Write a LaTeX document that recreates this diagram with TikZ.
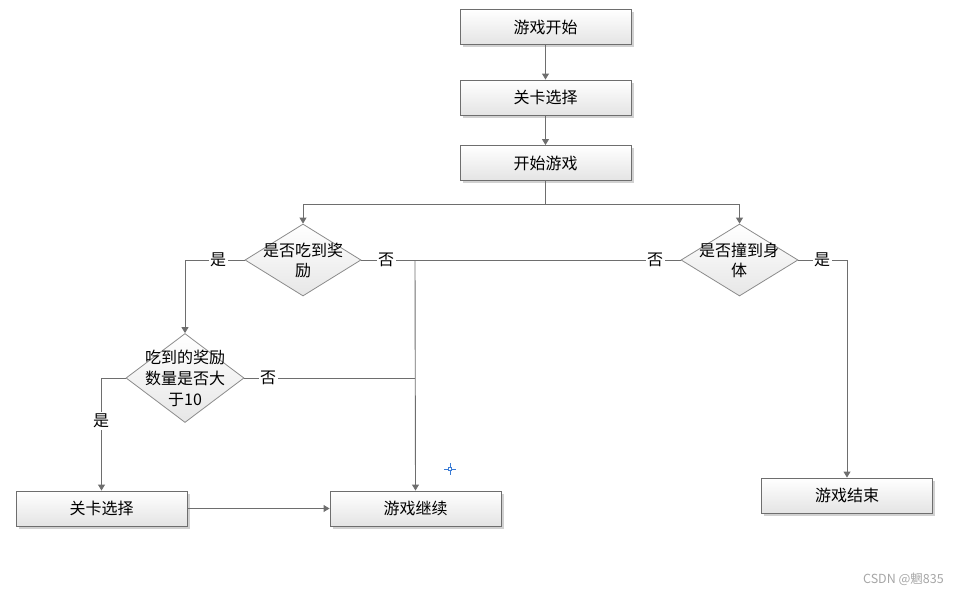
\documentclass[tikz,border=0pt]{standalone}
\usepackage{fontspec}
\setmainfont{Noto Sans CJK SC}
\usetikzlibrary{shapes.geometric,arrows.meta,shadows}

\definecolor{edge}{HTML}{6E6E6E}
\definecolor{fillbot}{HTML}{E4E4E4}
\definecolor{marker}{HTML}{3A7BD5}

\tikzset{
  stepbox/.style={rectangle, draw=edge, line width=0.9pt,
    top color=white, bottom color=fillbot,
    minimum width=171pt, minimum height=35pt, inner sep=0pt,
    font=\fontsize{16}{19}\selectfont,
    drop shadow={shadow xshift=2.5pt, shadow yshift=-2.5pt, fill=black!18, opacity=1}},
  decide/.style={diamond, draw=edge!80, line width=0.8pt,
    top color=white, bottom color=fillbot!90,
    inner sep=0pt, minimum width=#1},
  dtext/.style={align=center, font=\fontsize{16}{20}\selectfont, inner sep=0pt},
  flow/.style={draw=edge, line width=0.9pt},
  arr/.style={flow, -{Triangle[width=7pt,length=6pt]}},
  tag/.style={fill=white, inner sep=1.5pt, font=\fontsize{16}{19}\selectfont}
}

\begin{document}
\begin{tikzpicture}[x=1pt,y=-1pt]
\useasboundingbox (0,0) rectangle (958,594);

% main column
\node[stepbox] (start) at (545.5,27)  {游戏开始};
\node[stepbox] (level) at (545.5,97.5){关卡选择};
\node[stepbox] (play)  at (545.5,163) {开始游戏};

% decisions
\node[decide=116pt, minimum height=72pt] (eat)  at (303,260) {};
\node[dtext] (eatT) at (303,260) {是否吃到奖\\励};
\node[decide=117pt, minimum height=72pt] (hit)  at (739.5,260) {};
\node[dtext] (hitT) at (739,260) {是否撞到身\\体};
\node[decide=118pt, minimum height=89pt] (many) at (185,378) {};
\node[dtext, font=\fontsize{16}{21}\selectfont] (manyT) at (185,378) {吃到的奖励\\数量是否大\\于10};

% outcomes
\node[stepbox] (next) at (101.5,508.5) {关卡选择};
\node[stepbox] (cont) at (415.5,508.5) {游戏继续};
\node[stepbox] (over) at (847,495.5)   {游戏结束};

% junction points
\coordinate (split) at (545.5,204);
\coordinate (join) at (415,260);
\coordinate (joinB) at (415,378);

% connectors
\draw[arr] (start) -- (level);
\draw[arr] (level) -- (play);
\draw[flow] (play.south) -- (split);
\draw[arr] (split) -| (eat.north);
\draw[arr] (split) -| (hit.north);

\draw[arr] (eat.west) -| (many.north);
\draw[flow] (eat.east) -- (hit.west);
\draw[arr] (join) -- (cont.north);
\draw[flow] (many.east) -- (joinB);
\draw[arr] (many.west) -| (next.north);
\draw[arr] (next.east) -- (cont.west);
\draw[arr] (hit.east) -| (over.north);

% branch labels
\node[tag] (y1) at (218,260) {是};
\node[tag] (n1) at (386,260) {否};
\node[tag] (n2) at (655,260) {否};
\node[tag] (y2) at (822,260) {是};
\node[tag] (n3) at (268,378) {否};
\node[tag] (y3) at (101,421) {是};

% small blue cursor mark
\draw[marker, line width=0.8pt] (444,469) -- (456,469) (450,463) -- (450,475);
\draw[marker, fill=white, line width=0.6pt] (448.5,467.5) rectangle (451.5,470.5);

% signature
\node[text=black!35, font=\fontsize{12.5}{14}\selectfont, anchor=east, inner sep=0pt] (sig) at (944,579) {CSDN @魍835};
\end{tikzpicture}
\end{document}
